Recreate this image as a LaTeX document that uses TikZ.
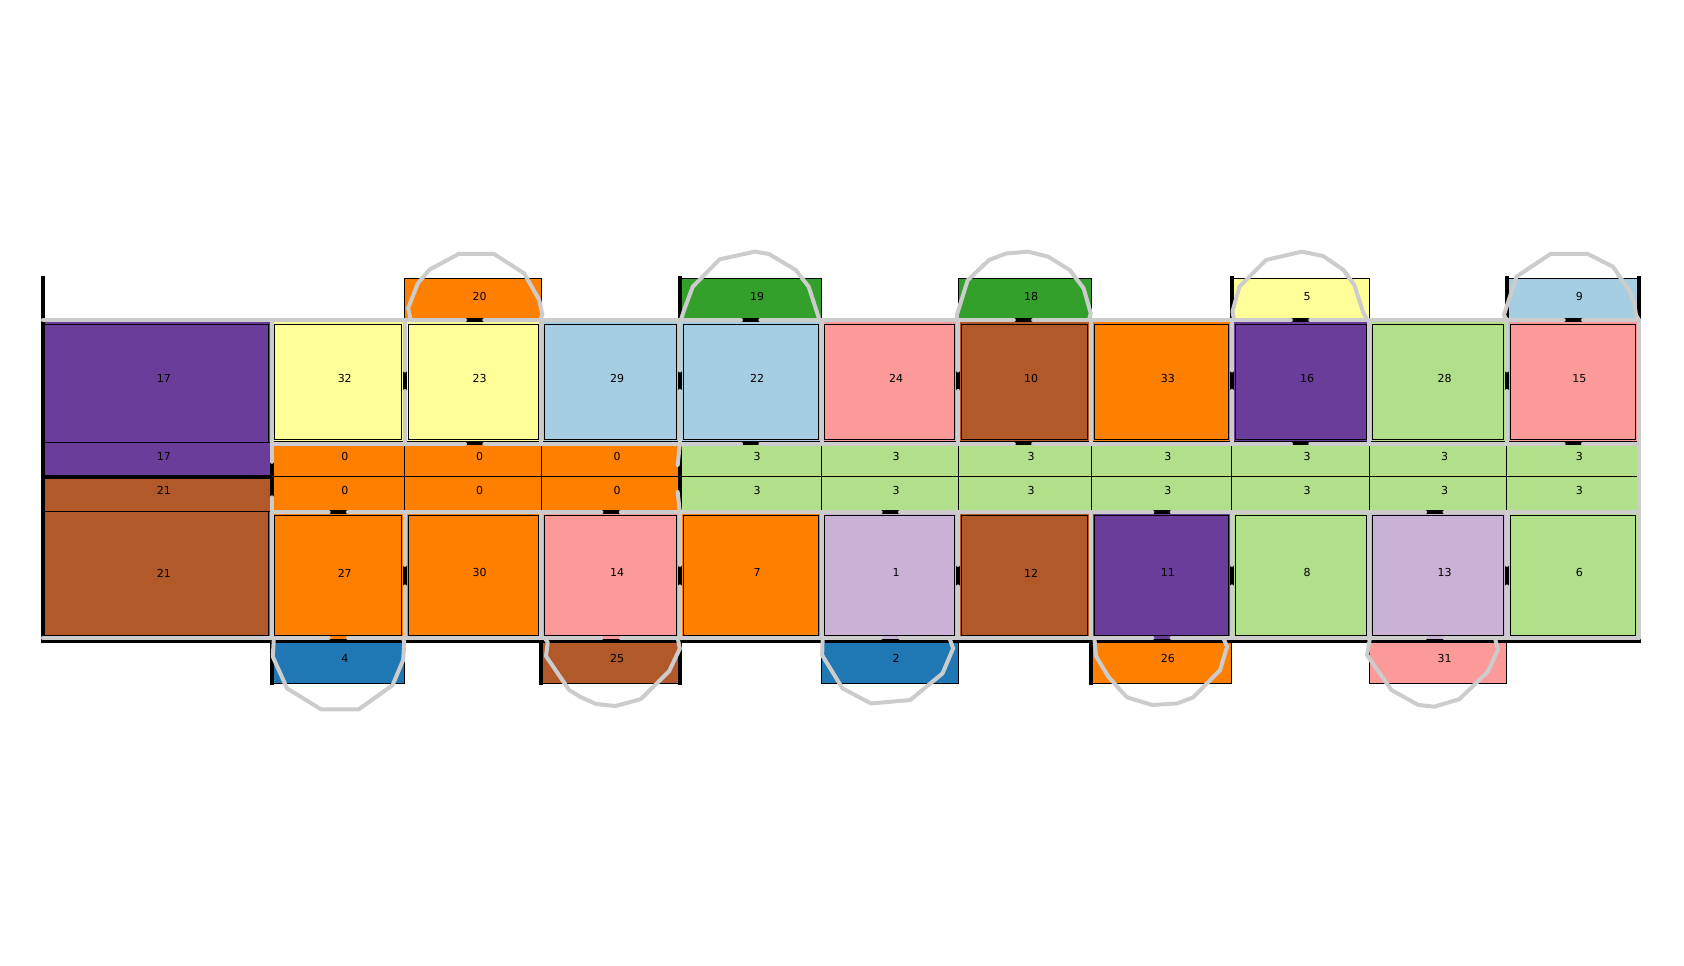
\documentclass[tikz,border=0pt]{standalone}
\usepackage{fontspec}
\setmainfont{DejaVu Sans}
\definecolor{clblue}{HTML}{A6CEE3}
\definecolor{cdblue}{HTML}{1F78B4}
\definecolor{clgreen}{HTML}{B2DF8A}
\definecolor{cdgreen}{HTML}{33A02C}
\definecolor{cpink}{HTML}{FB9A99}
\definecolor{corng}{HTML}{FF7F00}
\definecolor{clav}{HTML}{CAB2D6}
\definecolor{cpurp}{HTML}{6A3D9A}
\definecolor{cyell}{HTML}{FFFF99}
\definecolor{cbrwn}{HTML}{B15928}
\definecolor{wallgray}{HTML}{CCCCCC}
\newcommand{\roomcell}[7]{\draw[cellbox, fill=#5] (#1,#2) rectangle (#3,#4) node[lbl] (#7) at ({(#1+#3)/2+6}, {(#2+#4)/2-3}) {#6}}
\begin{document}
\begin{tikzpicture}[x=1.074pt, y=-1.074pt,
  cellbox/.style={draw=black, line width=1pt},
  wallblack/.style={draw=black, line width=4pt},
  grayline/.style={draw=wallgray, line width=4pt, line cap=round, line join=round},
  lbl/.style={font=\fontsize{11}{13}\selectfont, inner sep=0pt}]
  \useasboundingbox (0,0) rectangle (1568,899.4);
  \foreach \l/\r/\c/\t [count=\i] in {377/504/corng/20, 633/765/cdgreen/19, 892/1016/cdgreen/18, 1147/1275/cyell/5, 1403/1526/clblue/9}
    \roomcell{\l}{259}{\r}{299}{\c}{\t}{top\i};
  \foreach \l/\r/\c/\t [count=\i] in {40/253/cpurp/17, 253/377/cyell/32, 377/504/cyell/23, 504/633/clblue/29, 633/765/clblue/22, 765/892/cpink/24, 892/1016/cbrwn/10, 1016/1147/corng/33, 1147/1275/cpurp/16, 1275/1403/clgreen/28, 1403/1526/cpink/15}
    \roomcell{\l}{299}{\r}{412}{\c}{\t}{up\i};
  \foreach \l/\r/\c/\t [count=\i] in {40/253/cpurp/17, 253/377/corng/0, 377/504/corng/0, 504/633/corng/0, 633/765/clgreen/3, 765/892/clgreen/3, 892/1016/clgreen/3, 1016/1147/clgreen/3, 1147/1275/clgreen/3, 1275/1403/clgreen/3, 1403/1526/clgreen/3}
    \roomcell{\l}{412}{\r}{444}{\c}{\t}{ca\i};
  \foreach \l/\r/\c/\t [count=\i] in {40/253/cbrwn/21, 253/377/corng/0, 377/504/corng/0, 504/633/corng/0, 633/765/clgreen/3, 765/892/clgreen/3, 892/1016/clgreen/3, 1016/1147/clgreen/3, 1147/1275/clgreen/3, 1275/1403/clgreen/3, 1403/1526/clgreen/3}
    \roomcell{\l}{444}{\r}{476}{\c}{\t}{cb\i};
  \foreach \l/\r/\c/\t [count=\i] in {40/253/cbrwn/21, 253/377/corng/27, 377/504/corng/30, 504/633/cpink/14, 633/765/corng/7, 765/892/clav/1, 892/1016/cbrwn/12, 1016/1147/cpurp/11, 1147/1275/clgreen/8, 1275/1403/clav/13, 1403/1526/clgreen/6}
    \roomcell{\l}{476}{\r}{597}{\c}{\t}{lo\i};
  \foreach \l/\r/\c/\t [count=\i] in {253/377/cdblue/4, 504/633/cbrwn/25, 765/892/cdblue/2, 1016/1147/corng/26, 1275/1403/cpink/31}
    \roomcell{\l}{597}{\r}{636}{\c}{\t}{bot\i};
  \foreach \l/\r in {253/377, 377/504, 504/633, 633/765, 765/892, 892/1016, 1016/1147, 1147/1275, 1275/1403, 1403/1526}
    \draw[cellbox] ({\l+3},302) rectangle ({\r-3},409.5) ({\l+3},480) rectangle ({\r-3},592);
  \draw[cellbox] (40,302) -- (250,302) -- (250,412) (40,592) -- (250,592) -- (250,476);

  \draw[wallblack] (40,257) -- (40,599) (1526,257) -- (1526,599);
  \draw[wallblack] (38,298) -- (1528,298) (38,597) -- (1528,597);
  \draw[wallblack] (253,412.5) -- (1528,412.5) (253,476.5) -- (1528,476.5) (40,444) -- (253,444);
  \foreach \x in {253,377,504,633,765,892,1016,1147,1275,1403}
    \draw[wallblack] (\x,299) -- (\x,412) (\x,476) -- (\x,597);
  \draw[wallblack] (253,412) -- (253,476) (633,412) -- (633,476);
  \draw[wallblack] (633,257) -- (633,299) (1147,257) -- (1147,299) (1403,257) -- (1403,299);
  \draw[wallblack] (253,597) -- (253,638) (504,597) -- (504,638) (633,597) -- (633,638) (1016,597) -- (1016,638);

  \foreach \y/\a in {298/40, 413/253}
    \draw[grayline] (\a,\y) -- (433,\y) (451,\y) -- (690,\y) (708,\y) -- (944,\y) (962,\y) -- (1202,\y) (1220,\y) -- (1456,\y) (1474,\y) -- (1526,\y);
  \foreach \y/\a in {477/253, 594/40}
    \draw[grayline] (\a,\y) -- (306,\y) (324,\y) -- (560,\y) (578,\y) -- (820,\y) (838,\y) -- (1073,\y) (1091,\y) -- (1327,\y) (1345,\y) -- (1526,\y);
  \foreach \x in {377,633,892,1147,1403}
    \draw[grayline] (\x,298) -- (\x,345) (\x,364) -- (\x,413) (\x,477) -- (\x,526) (\x,546) -- (\x,594);
  \foreach \x in {504,765,1016,1275,1526}
    \draw[grayline] (\x,298) -- (\x,413) (\x,477) -- (\x,594);
  \draw[grayline] (1526,413) -- (1526,477);
  \draw[grayline] (253,298) -- (253,430) (253,463) -- (253,594);
  \draw[grayline] (633,413) -- (631,433) (631,458) -- (633,477);

  \draw[grayline] (380,298) -- (382,296) -- (380,287) -- (389,264) -- (400,251) -- (427,236.5) -- (460,236.5) -- (488,254.5) -- (502,279) -- (505,293) -- (503,298);
  \draw[grayline] (634,298) -- (636.5,290) -- (645,267) -- (670,241.5) -- (703,234.3) -- (716,236.5) -- (741,251.4) -- (753,267) -- (761,291.7) -- (763,298);
  \draw[grayline] (891,298) -- (891,293) -- (901,261) -- (921,242) -- (937,236) -- (957,234.3) -- (976,239) -- (996,251.4) -- (1009,268.5) -- (1015.6,291.7) -- (1014,298);
  \draw[grayline] (1149,298) -- (1147.6,290) -- (1154,267) -- (1179,242) -- (1212,234.3) -- (1232,238.4) -- (1251,251.4) -- (1261,265.4) -- (1269,290) -- (1273,298);
  \draw[grayline] (1403,298) -- (1400.3,293.3) -- (1412,257.6) -- (1443.6,236.5) -- (1478.5,236.5) -- (1501.8,248.3) -- (1516.7,270) -- (1521.7,282.4) -- (1523.3,293.3) -- (1526,298);

  \draw[grayline] (255,594) -- (254,611.4) -- (267.3,641) -- (299,660.5) -- (334,660.5) -- (365.5,638) -- (375.4,614.5) -- (376.4,597.5) -- (375,594);
  \draw[grayline] (507,594) -- (510,598) -- (508.4,611) -- (530,642.5) -- (540,648.7) -- (555,655.5) -- (573,657.4) -- (596.6,651) -- (623,625) -- (633,604) -- (631,594);
  \draw[grayline] (766,594) -- (765.5,610) -- (784.5,641) -- (811,655) -- (847.6,651.8) -- (877.6,627) -- (887.5,603.7) -- (884,594);
  \draw[grayline] (1019,594) -- (1020.5,611) -- (1032,630) -- (1043,642.5) -- (1049.5,649.3) -- (1072.7,656.4) -- (1096,655) -- (1111,649.3) -- (1136,624) -- (1142.6,602) -- (1139,594);
  \draw[grayline] (1275.6,594) -- (1272.9,610) -- (1295.6,642.5) -- (1320.5,656.4) -- (1335.5,658) -- (1358.8,651) -- (1385.4,625.4) -- (1394.7,605.2) -- (1392,594);
\end{tikzpicture}
\end{document}
